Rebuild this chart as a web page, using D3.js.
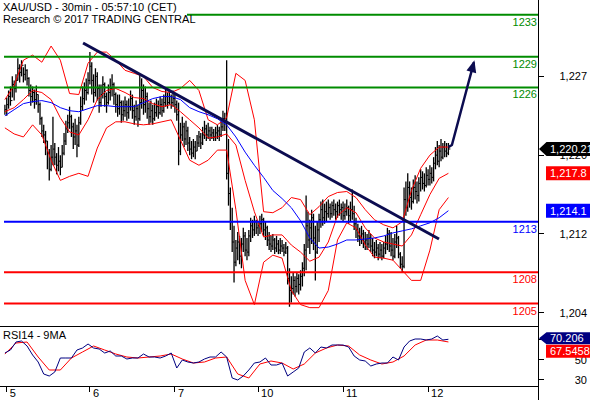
<!DOCTYPE html>
<html>
<head>
<meta charset="utf-8">
<script src="https://cdnjs.cloudflare.com/ajax/libs/d3/7.8.5/d3.min.js"></script>
<style>
  body { margin: 0; background: #fff; }
  svg { display: block; font-family: "Liberation Sans", Arial, sans-serif; font-size: 11px; }
</style>
</head>
<body>
<svg id="chart" width="590" height="400"></svg>
<script>
// ---- data (XAU/USD 30 min bars) ----
const dayLabels = ["5", "6", "7", "10", "11", "12"];
const dayStart = [1, 46, 92, 137, 183, 229];   // bar index where each day begins

const hi = [
  1224.6,1225.3,1226.0,1226.4,1227.4,1227.0,1227.6,1229.2,1228.6,1229.0,
  1228.3,1228.6,1228.1,1227.3,1226.6,1226.4,1226.1,1226.5,1225.6,1224.8,
  1223.4,1222.6,1222.0,1221.0,1220.2,1220.6,1223.4,1220.8,1219.8,1220.4,
  1219.6,1220.6,1221.8,1223.0,1223.6,1224.4,1223.6,1222.8,1223.2,1222.6,
  1223.4,1225.4,1226.4,1226.8,1227.2,1227.8,1229.8,1228.8,1227.6,1228.2,
  1227.8,1226.6,1226.6,1227.4,1226.8,1225.8,1226.6,1227.2,1227.6,1226.8,
  1225.8,1225.6,1225.6,1225.0,1225.0,1225.4,1225.0,1225.2,1226.0,1225.6,
  1224.6,1225.0,1224.6,1227.6,1227.2,1226.6,1226.4,1225.8,1224.8,1225.0,
  1224.6,1224.8,1225.2,1225.0,1225.4,1225.2,1225.6,1226.2,1225.8,1226.0,
  1225.6,1226.0,1225.6,1225.0,1224.8,1222.8,1223.4,1222.8,1223.0,1222.4,
  1221.4,1221.0,1221.2,1221.0,1221.6,1222.0,1221.8,1222.4,1223.0,1222.6,
  1222.8,1222.4,1222.4,1222.2,1222.4,1222.6,1222.4,1223.2,1224.0,1223.8,
  1229.0,1221.2,1216.4,1214.4,1212.6,1211.2,1212.0,1211.6,1211.4,1212.4,
  1212.0,1211.4,1212.2,1213.4,1213.2,1213.6,1213.2,1213.0,1213.6,1213.8,
  1213.4,1213.0,1212.6,1212.0,1211.6,1211.8,1211.4,1211.6,1211.2,1211.4,
  1211.2,1210.8,1211.0,1210.6,1208.4,1207.6,1208.0,1207.6,1208.0,1207.8,
  1208.2,1209.0,1210.8,1215.6,1214.0,1213.2,1214.2,1213.8,1212.6,1213.0,
  1213.8,1215.0,1215.2,1214.8,1215.0,1215.2,1214.8,1215.0,1215.2,1214.8,
  1215.0,1215.2,1214.8,1215.0,1214.8,1215.2,1214.6,1215.0,1216.2,1214.6,
  1213.4,1212.8,1212.4,1212.6,1212.2,1212.0,1211.8,1212.2,1211.8,1211.4,
  1211.0,1211.2,1210.8,1211.0,1210.8,1211.0,1211.6,1212.4,1212.2,1212.0,
  1211.4,1211.8,1212.6,1211.6,1210.0,1209.6,1216.4,1217.0,1217.8,1217.0,
  1216.4,1217.2,1217.6,1217.0,1217.4,1218.2,1218.0,1217.8,1218.4,1218.2,
  1218.6,1218.4,1219.4,1220.4,1221.0,1220.6,1221.2,1220.8,1221.0,1220.8,1220.8
];
const lo = [
  1223.6,1223.5,1224.2,1224.5,1225.3,1225.0,1225.8,1227.0,1226.8,1227.4,
  1226.8,1227.0,1226.5,1225.4,1224.5,1224.8,1224.2,1224.6,1223.8,1222.6,
  1221.4,1220.8,1219.6,1218.2,1217.1,1218.0,1218.6,1218.6,1217.7,1218.0,
  1217.6,1218.4,1219.6,1220.6,1221.8,1222.2,1221.4,1220.2,1220.6,1219.4,
  1220.4,1222.6,1224.0,1224.6,1225.0,1225.6,1226.6,1225.6,1224.8,1225.4,
  1225.0,1223.8,1224.4,1225.2,1224.4,1223.8,1224.6,1225.0,1225.4,1224.6,
  1223.8,1223.4,1223.6,1222.8,1223.0,1223.4,1223.0,1223.2,1224.0,1223.2,
  1222.6,1223.0,1222.4,1223.0,1224.2,1223.6,1223.8,1223.2,1222.6,1222.8,
  1222.6,1223.0,1223.4,1223.2,1223.6,1223.4,1223.8,1224.4,1224.2,1224.6,
  1224.2,1224.4,1223.8,1223.0,1218.6,1219.6,1221.0,1220.4,1220.6,1220.0,
  1219.6,1219.2,1219.4,1219.2,1220.0,1220.4,1220.2,1220.6,1221.2,1221.0,
  1221.2,1221.0,1221.2,1221.0,1221.0,1221.2,1221.0,1221.4,1222.0,1222.0,
  1217.2,1214.6,1212.2,1210.0,1207.0,1208.6,1209.2,1208.8,1208.4,1210.0,
  1209.6,1209.2,1209.6,1211.0,1211.4,1211.6,1211.8,1211.6,1211.8,1212.0,
  1211.6,1211.2,1210.6,1210.2,1210.0,1210.2,1209.8,1210.0,1209.8,1209.8,
  1210.0,1209.6,1209.8,1206.8,1204.6,1205.0,1205.8,1205.6,1206.0,1205.8,
  1206.2,1206.6,1207.6,1208.2,1210.4,1209.8,1210.8,1210.2,1207.2,1209.8,
  1211.0,1212.4,1212.6,1212.8,1213.0,1213.4,1213.2,1213.4,1213.6,1213.2,
  1213.4,1213.6,1213.2,1213.0,1213.2,1213.6,1212.8,1213.0,1213.2,1212.2,
  1211.4,1211.0,1210.6,1210.8,1210.4,1210.2,1210.2,1210.4,1210.0,1209.6,
  1209.4,1209.6,1209.2,1209.4,1209.2,1209.4,1209.8,1210.2,1210.0,1209.6,
  1209.2,1209.4,1210.4,1209.4,1208.4,1208.0,1208.4,1213.6,1214.0,1214.4,
  1214.2,1214.8,1215.2,1214.8,1215.0,1216.0,1216.2,1216.0,1216.4,1216.6,
  1216.6,1216.8,1217.0,1218.2,1218.6,1218.4,1219.0,1219.2,1219.4,1219.4,1219.6
];
const cl = [
  1224.1,1224.6,1225.4,1225.0,1226.6,1226.2,1227.0,1228.2,1227.8,1228.5,
  1227.6,1228.0,1227.2,1226.0,1225.4,1225.8,1225.1,1225.6,1224.6,1223.2,
  1222.0,1221.6,1221.0,1219.8,1218.2,1219.4,1220.2,1219.4,1218.6,1219.0,
  1218.4,1219.8,1221.0,1222.2,1222.8,1223.4,1222.4,1221.4,1222.0,1220.6,
  1222.8,1224.4,1225.2,1226.0,1225.8,1227.0,1228.4,1227.0,1225.8,1227.4,
  1226.2,1224.8,1225.6,1226.6,1225.4,1224.8,1225.8,1226.2,1226.6,1225.6,
  1224.6,1224.2,1224.8,1223.6,1224.0,1224.6,1223.8,1224.4,1225.2,1224.0,
  1223.4,1224.2,1223.2,1224.8,1226.0,1224.6,1225.4,1224.2,1223.4,1224.0,
  1223.2,1223.8,1224.4,1223.8,1224.6,1224.0,1224.8,1225.4,1224.8,1225.4,
  1224.8,1225.2,1224.6,1223.6,1220.0,1221.6,1222.4,1221.2,1222.0,1220.8,
  1220.2,1219.8,1220.4,1220.0,1220.8,1221.4,1220.8,1221.6,1222.2,1221.6,
  1222.0,1221.6,1221.8,1221.4,1221.8,1222.0,1221.6,1222.4,1223.2,1222.8,
  1217.8,1215.8,1213.0,1211.0,1209.0,1210.4,1211.0,1209.6,1210.8,1211.6,
  1210.2,1210.0,1211.6,1212.6,1212.2,1213.0,1212.4,1212.6,1212.8,1213.2,
  1212.2,1212.4,1211.2,1210.8,1210.6,1211.2,1210.4,1210.8,1210.2,1210.6,
  1210.4,1210.0,1210.4,1207.4,1206.2,1206.4,1207.2,1206.6,1207.4,1206.8,
  1207.6,1208.4,1210.2,1212.6,1211.2,1212.4,1213.4,1211.4,1210.0,1212.2,
  1213.2,1214.2,1213.4,1214.0,1213.8,1214.4,1213.8,1214.6,1214.2,1214.0,
  1214.6,1214.2,1214.4,1213.6,1214.0,1214.4,1213.6,1214.2,1213.8,1212.8,
  1212.2,1211.6,1211.4,1211.8,1211.0,1211.2,1210.8,1211.4,1210.6,1210.2,
  1210.0,1210.4,1209.8,1210.2,1209.6,1210.4,1210.8,1211.8,1210.6,1210.2,
  1209.6,1211.0,1211.4,1209.8,1208.8,1208.6,1215.2,1214.4,1216.4,1215.4,
  1215.0,1216.4,1216.0,1215.6,1216.8,1217.4,1216.8,1216.6,1217.6,1217.2,
  1217.8,1217.4,1218.8,1219.6,1219.0,1220.0,1219.4,1220.4,1220.0,1219.8,1220.21
];

// Bollinger (20,2) and moving average, one value every 5 bars
const bandStep = 5;
const bbUpper = [
  1225.1,1226.5,1229.0,1229.5,1228.8,1230.4,1229.0,1225.7,1225.6,1228.7,
  1229.8,1229.8,1229.0,1228.0,1227.7,1227.4,1226.3,1225.9,1225.8,1226.2,
  1227.0,1226.0,1223.1,1222.6,1223.3,1227.7,1227.0,1223.1,1214.0,1213.9,
  1214.4,1215.4,1215.2,1213.7,1214.5,1215.5,1215.9,1216.0,1215.4,1214.2,
  1213.2,1212.7,1212.4,1213.0,1216.1,1218.3,1219.6,1220.4,1220.4
];
const bbMid = [
  1223.9,1224.3,1225.1,1226.0,1225.8,1225.1,1223.3,1221.9,1221.6,1223.1,
  1225.1,1226.0,1226.2,1225.8,1225.3,1225.2,1224.7,1224.4,1224.6,1223.9,
  1223.1,1222.3,1221.3,1221.4,1221.7,1220.6,1217.1,1214.0,1211.5,1211.7,
  1211.7,1210.7,1210.0,1209.1,1209.5,1211.0,1213.6,1214.4,1213.9,1212.4,
  1211.4,1211.0,1210.8,1210.6,1211.7,1213.7,1215.7,1217.3,1217.8
];
const bbLower = [
  1222.3,1221.7,1221.4,1222.6,1221.6,1219.1,1217.1,1217.5,1217.8,1217.5,
  1220.3,1222.3,1222.9,1222.9,1222.7,1222.6,1222.7,1222.9,1223.1,1221.1,
  1219.1,1218.6,1219.1,1220.1,1220.1,1214.2,1207.2,1204.8,1209.0,1209.7,
  1209.4,1206.2,1204.8,1204.5,1204.5,1206.2,1211.2,1212.9,1212.4,1210.7,
  1209.5,1209.4,1209.2,1208.2,1207.2,1207.2,1210.2,1214.2,1215.4
];
const ma = [
  1223.5,1224.1,1224.7,1224.9,1225.0,1224.8,1224.3,1224.0,1223.9,1224.2,
  1224.5,1224.5,1224.4,1224.4,1224.4,1224.8,1225.2,1225.4,1225.4,1225.1,
  1224.3,1223.9,1223.6,1223.2,1222.6,1221.4,1219.9,1218.6,1217.4,1216.1,
  1215.3,1214.4,1213.1,1211.4,1210.4,1210.5,1210.8,1211.2,1211.2,1211.3,
  1211.4,1211.6,1211.9,1212.1,1212.3,1212.6,1212.9,1213.4,1214.1
];

// RSI14 every 3 bars, its 9MA every 6 bars
const rsiStep = 3;
const rsi = [
  56.5,59.5,67.5,68.5,63.5,54.5,47.5,35.5,33.5,37.5,
  51.5,51.5,51.5,59.5,61.5,65.5,61.5,60.5,56.5,58.5,
  53.5,53.5,50.5,51.5,51.5,55.5,52.5,52.5,51.5,53.5,
  56.5,41.5,49.5,47.5,46.5,47.5,50.5,52.5,52.5,57.5,
  52.5,31.5,29.5,33.5,39.5,46.5,47.5,51.5,44.5,44.5,
  46.5,33.5,37.5,41.5,57.5,61.5,56.5,62.5,61.5,64.5,
  64.5,64.5,62.5,53.5,49.5,48.5,43.5,45.5,46.5,46.5,
  52.5,49.5,62.5,68.5,70.5,70.5,69.5,70.5,73.5,69.5,
  70.206
];
const rsiMaStep = 6;
const rsiMa = [
  55.5,66.5,67.5,52.5,39.5,39.5,51.5,57.5,63.5,59.5,
  55.5,52.5,51.5,52.5,53.5,55.5,50.5,46.5,47.5,51.5,
  52.5,35.5,31.5,45.5,48.5,46.5,40.5,45.5,56.5,61.5,
  64.5,63.5,54.5,49.5,45.5,47.5,53.5,64.5,69.5,69.5,
  67.5458
];

// key levels
const levels = [1233.5, 1229.35, 1226.3, 1213.0, 1208.0, 1204.9];
const levelLabels = ["1233", "1229", "1226", "1213", "1208", "1205"];
const levelKind = ["res", "res", "res", "pivot", "sup", "sup"];

// trend line and projected path [bar index, price]
const trend = [[42.3, 1230.7], [234.9, 1211.3]];
const arrowPath = [[240, 1220.4], [241.9, 1220.6], [253.8, 1228.8]];

const priceTicks = [1204.0, 1211.8, 1219.6, 1227.4];
const rsiTicks = [30, 50, 70];

// ---- layout ----
const axisX = 538.5;
const mainBottom = 326.5;
const rsiBottom = 386.5;

const svg = d3.select("#chart");
const x = d3.scaleLinear().domain([0, 240]).range([4.9, 448.4]);
const y = d3.scaleLinear().domain([1204, 1227.4]).range([312.7, 76.36]);
const yr = d3.scaleLinear().domain([30, 70]).range([379.5, 339.5]);
const levelColor = d3.scaleOrdinal().domain(["res", "pivot", "sup"]).range(["#008c00", "#0000ff", "#ff0000"]);

svg.append("defs").append("clipPath").attr("id", "mainClip")
  .append("rect").attr("x", 0).attr("y", 0).attr("width", axisX).attr("height", mainBottom);

const main = svg.append("g").attr("clip-path", "url(#mainClip)");

// bars
const bars = main.append("g").attr("stroke", "#000").attr("stroke-width", 1.3);
cl.forEach((c, i) => {
  const px = x(i);
  bars.append("line").attr("x1", px).attr("x2", px).attr("y1", y(hi[i])).attr("y2", y(lo[i]));
  bars.append("line").attr("x1", px).attr("x2", px + 2).attr("y1", y(c)).attr("y2", y(c)).attr("stroke-width", 1);
});

// bands and ma
const bandLine = d3.line().x((d, k) => x(k * bandStep)).y(d => y(d));
[bbUpper, bbMid, bbLower].forEach(s => {
  main.append("path").attr("d", bandLine(s)).attr("fill", "none").attr("stroke", "#ff0000").attr("stroke-width", 1);
});
main.append("path").attr("d", bandLine(ma)).attr("fill", "none").attr("stroke", "#0000ff").attr("stroke-width", 1);

// levels
levels.forEach((v, k) => {
  const c = levelColor(levelKind[k]);
  main.append("line").attr("x1", 4).attr("x2", axisX).attr("y1", y(v)).attr("y2", y(v))
    .attr("stroke", c).attr("stroke-width", 2);
  main.append("text").attr("x", 537).attr("y", y(v) + 11).attr("text-anchor", "end")
    .attr("fill", c).text(levelLabels[k]);
});

// trend line
const pt = d3.line().x(d => x(d[0])).y(d => y(d[1]));
main.append("path").attr("d", pt(trend)).attr("stroke", "#0c0c50").attr("stroke-width", 3).attr("fill", "none");

// arrow
main.append("path").attr("d", pt(arrowPath)).attr("stroke", "#0c0c50").attr("stroke-width", 2.5)
  .attr("fill", "none").attr("stroke-linejoin", "round");
{
  const a = arrowPath[arrowPath.length - 2], b = arrowPath[arrowPath.length - 1];
  const ax = x(a[0]), ay = y(a[1]), bx = x(b[0]), by = y(b[1]);
  const ang = Math.atan2(by - ay, bx - ax);
  const len = 12, half = 5;
  const tx = bx + Math.cos(ang) * 2, ty = by + Math.sin(ang) * 2;
  const baseX = tx - Math.cos(ang) * len, baseY = ty - Math.sin(ang) * len;
  const nx = -Math.sin(ang), ny = Math.cos(ang);
  main.append("path")
    .attr("d", `M${tx},${ty}L${baseX + nx * half},${baseY + ny * half}L${baseX - nx * half},${baseY - ny * half}Z`)
    .attr("fill", "#0c0c50");
}

// title
svg.append("rect").attr("x", 0).attr("y", 0).attr("width", 187).attr("height", 26).attr("fill", "#fff");
svg.append("text").attr("x", 3).attr("y", 11).attr("fill", "#000").text("XAU/USD - 30min - 05:57:10 (CET)");
svg.append("text").attr("x", 3).attr("y", 23).attr("fill", "#000").text("Research \u00a9 2017 TRADING CENTRAL");

// RSI panel
const rsiLine = d3.line().x((d, k) => x(k * rsiStep)).y(d => yr(d));
const rsiMaLine = d3.line().x((d, k) => x(k * rsiMaStep)).y(d => yr(d));
svg.append("path").attr("d", rsiMaLine(rsiMa)).attr("fill", "none").attr("stroke", "#ff0000").attr("stroke-width", 1);
svg.append("path").attr("d", rsiLine(rsi)).attr("fill", "none").attr("stroke", "#000080").attr("stroke-width", 1);
svg.append("text").attr("x", 3).attr("y", 339).attr("fill", "#000").text("RSI14 - 9MA");

// frame
const frame = svg.append("g").attr("stroke", "#000").attr("stroke-width", 1).attr("shape-rendering", "crispEdges");
frame.append("line").attr("x1", axisX).attr("x2", axisX).attr("y1", 0).attr("y2", 400);
frame.append("line").attr("x1", 0).attr("x2", axisX).attr("y1", mainBottom).attr("y2", mainBottom);
frame.append("line").attr("x1", 0).attr("x2", axisX).attr("y1", rsiBottom).attr("y2", rsiBottom);

// price axis
priceTicks.forEach(v => {
  frame.append("line").attr("x1", axisX).attr("x2", axisX + 5).attr("y1", y(v)).attr("y2", y(v));
  svg.append("text").attr("x", 587).attr("y", y(v) + 4).attr("text-anchor", "end").attr("fill", "#000")
    .text(d3.format(",.0f")(v));
});
rsiTicks.forEach(v => {
  frame.append("line").attr("x1", axisX).attr("x2", axisX + 5).attr("y1", yr(v)).attr("y2", yr(v));
  svg.append("text").attr("x", 587).attr("y", yr(v) + 4).attr("text-anchor", "end").attr("fill", "#000").text(v);
});

// time axis
dayStart.forEach((i, k) => {
  frame.append("line").attr("x1", x(i)).attr("x2", x(i)).attr("y1", rsiBottom).attr("y2", rsiBottom + 5);
  svg.append("text").attr("x", x(i) + 3).attr("y", 397).attr("fill", "#000").text(dayLabels[k]);
});

// value tags
function tag(cy, fill, label, pointer, h) {
  const top = cy - h / 2, bot = cy + h / 2;
  const d = pointer
    ? `M539,${cy}L546.5,${top}L590,${top}L590,${bot}L546.5,${bot}Z`
    : `M546,${top}L590,${top}L590,${bot}L546,${bot}Z`;
  svg.append("path").attr("d", d).attr("fill", fill);
  svg.append("text").attr("x", 550).attr("y", cy + 4).attr("fill", "#fff").text(label);
}
const last = cl.length - 1;
tag(y(cl[last]), "#000", d3.format(",.2f")(cl[last]), true, 14);
tag(y(bbMid[bbMid.length - 1]), "#ff0000", d3.format(",.1f")(bbMid[bbMid.length - 1]), false, 14);
tag(y(ma[ma.length - 1]), "#0000ff", d3.format(",.1f")(ma[ma.length - 1]), false, 14);

const rsiY = yr(rsi[rsi.length - 1]) - 1;
tag(rsiY, "#000080", String(rsi[rsi.length - 1]), true, 12);
tag(rsiY + 13, "#ff0000", String(rsiMa[rsiMa.length - 1]), false, 13);
</script>
</body>
</html>
